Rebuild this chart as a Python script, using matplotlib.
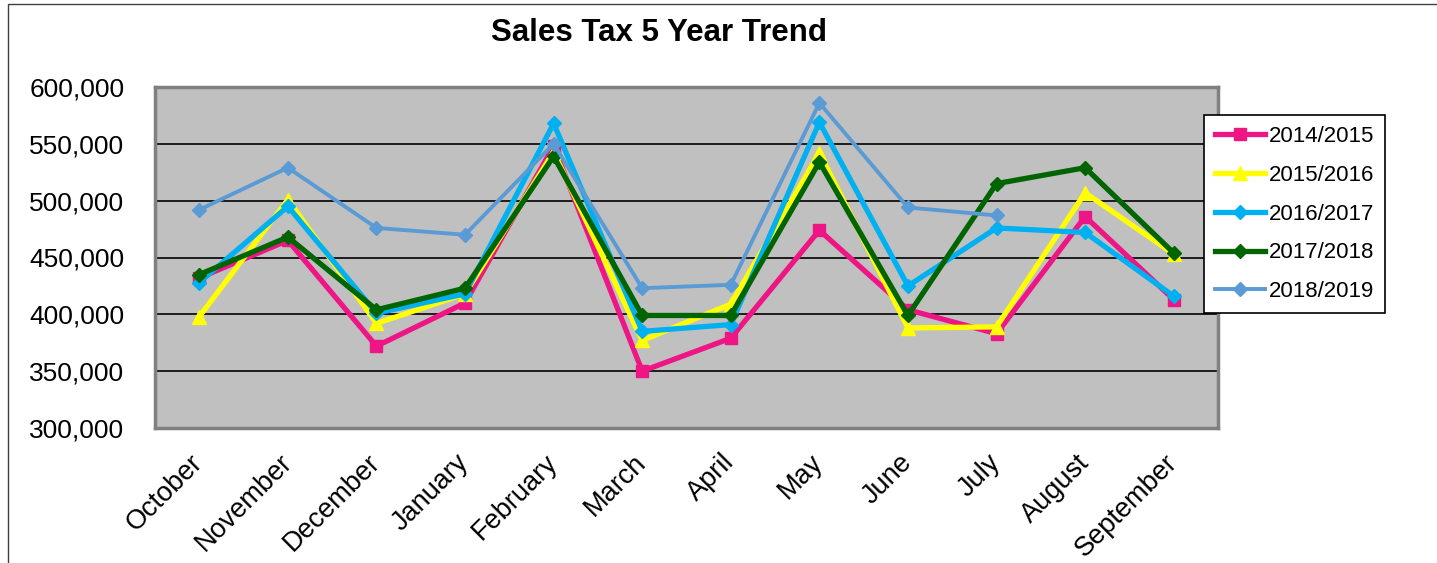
import numpy as np
import matplotlib.pyplot as plt
from matplotlib.patches import Rectangle
from matplotlib.ticker import FuncFormatter

plt.rcParams['font.family'] = ['Liberation Sans', 'DejaVu Sans']

# 数据
months = ['October', 'November', 'December', 'January', 'February', 'March',
          'April', 'May', 'June', 'July', 'August', 'September']
fy1415 = [432000, 465000, 372000, 410000, 548000, 350000, 379000, 474000, 404000, 383000, 486000, 413000]
fy1516 = [398000, 501000, 392000, 418000, 543000, 377000, 409000, 542000, 388000, 389000, 507000, 453000]
fy1617 = [428000, 495000, 401000, 418000, 568000, 385000, 391000, 569000, 425000, 476000, 472000, 416000]
fy1718 = [435000, 468000, 404000, 423000, 539000, 399000, 399000, 534000, 399000, 515000, 529000, 454000]
fy1819 = [492000, 529000, 476000, 470000, 550000, 423000, 426000, 586000, 494000, 487000]
labels = ['2014/2015', '2015/2016', '2016/2017', '2017/2018', '2018/2019']
yticks = [300000, 350000, 400000, 450000, 500000, 550000, 600000]

fig = plt.figure(figsize=(14.37, 5.63), dpi=100)
# 外框
fig.patches.append(Rectangle((8 / 1437, -0.1), 1.2, 1 - 4 / 563 + 0.1, transform=fig.transFigure,
                             fill=False, edgecolor='#404040', linewidth=1))
ax = fig.add_axes([155 / 1437, 1 - 428 / 563, (1218 - 155) / 1437, (428 - 87) / 563])
ax.set_facecolor('#c0c0c0')

x = np.arange(len(months))
ax.plot(x, fy1415, color='#ee1585', lw=3.8, marker='s', ms=9, label=labels[0])
ax.plot(x, fy1516, color='#ffff00', lw=3.8, marker='^', ms=10, label=labels[1])
ax.plot(x, fy1617, color='#00b0f0', lw=3.8, marker='D', ms=7, label=labels[2])
ax.plot(x, fy1718, color='#006400', lw=3.8, marker='D', ms=7, label=labels[3])
ax.plot(x[:len(fy1819)], fy1819, color='#5b9bd5', lw=2.8, marker='D', ms=7, label=labels[4])

ax.set_xlim(-0.5, len(months) - 0.5)
ax.set_ylim(300000, 600000)
ax.set_yticks(yticks)
ax.yaxis.set_major_formatter(FuncFormatter(lambda v, p: f'{int(v):,}'))
ax.grid(axis='y', color='black', lw=1.2)
ax.set_axisbelow(True)
ax.set_xticks(x)
ax.set_xticklabels(months, rotation=45, ha='right', va='center', rotation_mode='anchor')
ax.tick_params(axis='y', length=0, pad=22, labelsize=19)
ax.tick_params(axis='x', length=0, pad=22, labelsize=19.5)
for s in ax.spines.values():
    s.set_color('#808080')
    s.set_linewidth(2.5)

fig.text(659 / 1437, 1 - 33 / 563, 'Sales Tax 5 Year Trend', ha='center', va='center',
         fontsize=22.5, fontweight='bold')

leg = fig.legend(loc='upper left', bbox_to_anchor=(1204 / 1437, 1 - 115 / 563), fontsize=16,
                 frameon=True, fancybox=False, edgecolor='black', framealpha=1,
                 handlelength=2.25, labelspacing=0.8, borderpad=0.5, handletextpad=0.15,
                 borderaxespad=0)
leg.get_frame().set_linewidth(1.2)

plt.savefig('out.png', dpi=100)
